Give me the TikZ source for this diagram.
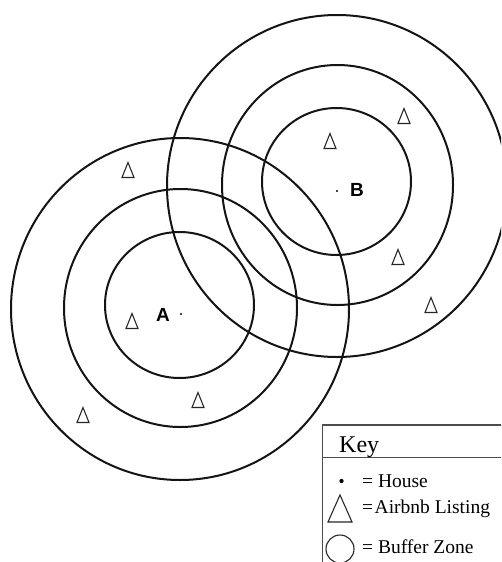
\documentclass[tikz,border=0pt]{standalone}
\usepackage{fontspec}
\setmainfont{Liberation Serif}
\newfontfamily\labelfont{Liberation Sans}
\begin{document}
\begin{tikzpicture}[x=1pt,y=-1pt,
  ring/.style={line width=2pt, draw=black!92},
  listing/.pic={\draw[line width=1.1pt, draw=black!85] (-6,7.5) -- (0,-7.5) -- (6,7.5) -- cycle;},
  house/.style={circle, fill=black, inner sep=0pt, minimum size=2.4pt},
  lbl/.style={font=\labelfont\bfseries\fontsize{19}{19}\selectfont, inner sep=0pt},
  keytext/.style={anchor=base west, inner sep=0pt, font=\fontsize{19.5}{20}\selectfont},
  keybox/.style={line width=1.5pt, draw=black!70}]
\useasboundingbox (0,0) rectangle (501,562);
\clip (0,0) rectangle (501,562);
% buffer zones around A
\draw[ring] (179.5,305) ellipse [x radius=74.5, y radius=73];
\draw[ring] (180.5,308) ellipse [x radius=116.5, y radius=119];
\draw[ring] (180,309) ellipse [x radius=169, y radius=171];
% buffer zones around B
\draw[ring] (336.5,181.5) ellipse [x radius=74.5, y radius=73.5];
\draw[ring] (337.5,185) ellipse [x radius=115.5, y radius=120];
\draw[ring] (337,186) ellipse [x radius=170, y radius=171];
% houses
\node[house] (hA) at (181,314) {};
\node[house] (hB) at (337,191) {};
\node[lbl] (lA) at (163,315) {A};
\node[lbl] (lB) at (357,190) {B};
% listings
\pic at (128,170) {listing};
\pic at (330,141) {listing};
\pic at (404,116) {listing};
\pic at (398,257) {listing};
\pic at (431,305) {listing};
\pic at (132,321) {listing};
\pic at (198,400) {listing};
\pic at (83,415) {listing};
% key
\draw[keybox] (510,425) -- (322.7,425) -- (322.7,570);
\draw[keybox] (322.7,457.5) -- (510,457.5);
\node[anchor=base west, inner sep=0pt, font=\fontsize{24}{24}\selectfont] (key) at (339,452) {Key};
\node[circle, fill=black, inner sep=0pt, minimum size=4.3pt] (kdot) at (341.5,481) {};
\node[keytext] (khouse) at (362,487) {= House};
\draw[line width=1.1pt, draw=black!85] (328,522) -- (340,495) -- (352,522) -- cycle;
\node[keytext] (kair) at (362,513.5) {=\hspace{1.5pt}Airbnb Listing};
\draw[line width=1.1pt, draw=black!85] (340,549) circle [radius=14];
\node[keytext] (kbuf) at (362,553) {= Buffer Zone};
\end{tikzpicture}
\end{document}
